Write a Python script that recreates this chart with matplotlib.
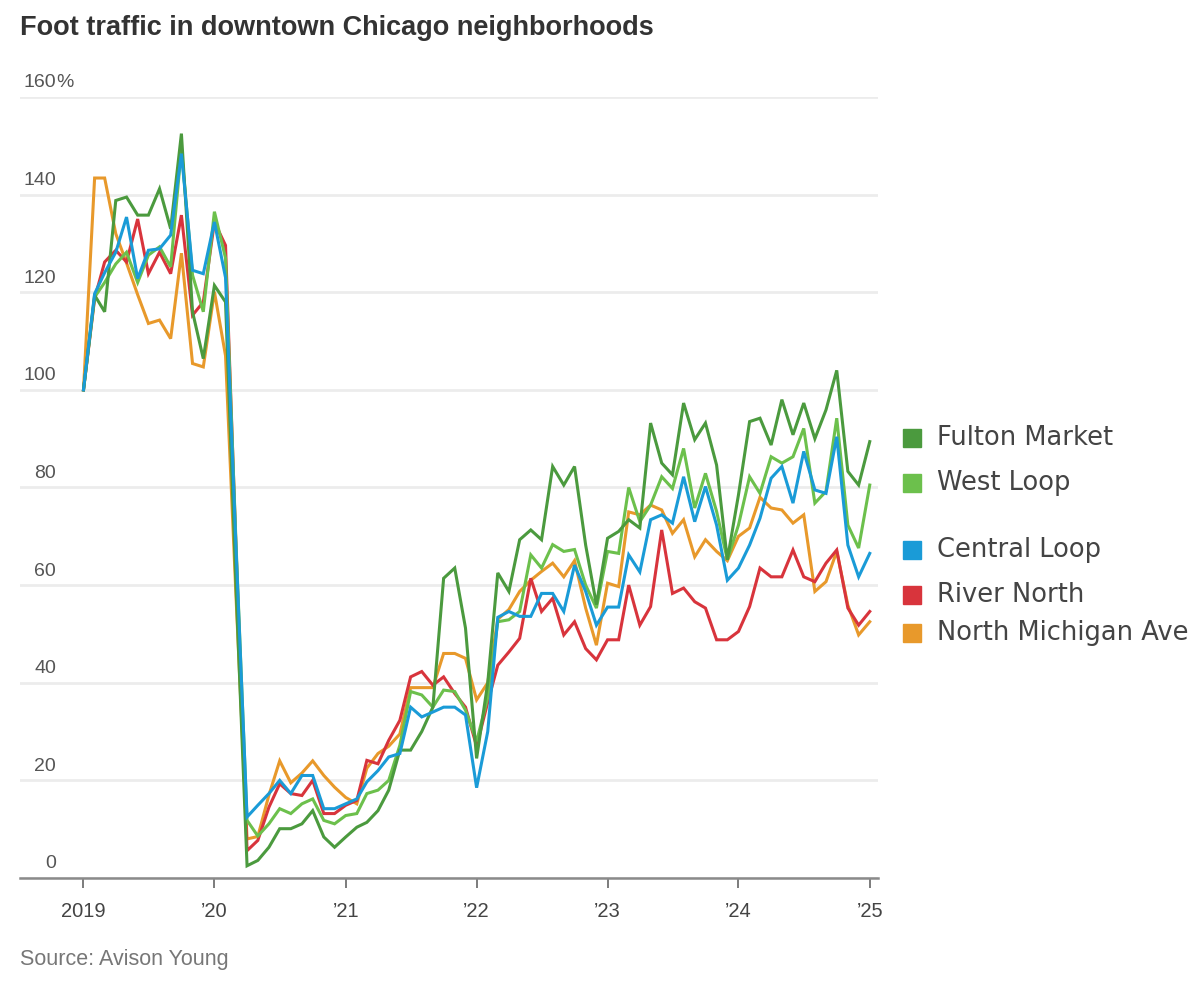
import matplotlib
matplotlib.use("Agg")
import matplotlib.pyplot as plt
import matplotlib.transforms as mtransforms
from matplotlib.patches import Rectangle
import pandas as pd

plt.rcParams['font.family'] = ['Liberation Sans', 'DejaVu Sans']

# monthly readings, Jan 2019 .. Jan 2025 (index, Jan 2019 = 100)
months = pd.date_range('2019-01-01', periods=73, freq='MS')

fulton_market = [
    100, 119.4, 116, 138.8, 139.5, 135.8, 135.8, 141.2, 133, 152.5, 116, 106.4,
    121.4, 118, 60, 2.5, 3.6, 6.3, 10.1, 10.1, 11.1, 13.8, 8.4, 6.3,
    8.4, 10.4, 11.4, 13.8, 18, 26.2, 26.2, 30, 35, 61.4, 63.5, 51.2,
    24.5, 40, 62.5, 58.7, 69.3, 71.3, 69.3, 84.3, 80.5, 84.3, 68.2, 56,
    69.6, 71, 73.4, 71.7, 93.2, 85, 82.6, 97.3, 89.8, 93.2, 84.6, 65.2,
    78.5, 93.5, 94.2, 88.7, 98, 90.8, 97.3, 90, 95.9, 104, 83.3, 80.5,
    89.4,
]
west_loop = [
    100, 119, 122, 125.8, 128.2, 122, 127.6, 129.3, 125.2, 149.4, 123.5, 116,
    136.5, 127, 69, 11.8, 8.6, 11.1, 14.2, 13.2, 15.2, 16.2, 11.8, 11.1,
    12.8, 13.2, 17.3, 18, 20, 27.2, 38.2, 37.5, 35, 38.5, 38.2, 34.4,
    28, 37, 52.5, 52.9, 54.6, 66.2, 63.5, 68.3, 66.9, 67.3, 60, 55.3,
    66.9, 66.5, 80, 73, 76.4, 82.2, 79.8, 88, 75.8, 82.9, 75.1, 65.2,
    72.3, 82.2, 78.8, 86.3, 85, 86.3, 92.1, 76.8, 79.2, 94.2, 72.3, 67.6,
    80.5,
]
central_loop = [
    100, 119.7, 124, 128.2, 135.4, 122.8, 128.6, 128.9, 131.7, 148.4, 124.5, 123.8,
    134.4, 123, 68, 12.5, 14.9, 17.3, 20, 17.3, 21, 21, 14.2, 14.2,
    15.2, 16.2, 19.7, 22, 24.8, 25.5, 35, 33, 34, 35, 35, 33.4,
    18.5, 30, 53.4, 54.6, 53.6, 53.6, 58.3, 58.3, 54.6, 64.1, 58.7, 51.8,
    55.5, 55.5, 66.2, 62.7, 73.4, 74.4, 72.7, 82.2, 73, 80.2, 72.3, 61,
    63.5, 68.2, 73.7, 81.9, 84.3, 76.8, 87.4, 79.5, 78.8, 90.4, 68.2, 61.7,
    66.5,
]
river_north = [
    100, 118.7, 126.2, 128.6, 126.2, 135, 123.8, 128.2, 123.8, 135.8, 115.3, 118,
    134.4, 129.6, 68, 5.6, 7.7, 14.5, 19.3, 17.3, 16.9, 20, 13.2, 13.2,
    14.9, 15.9, 24.1, 23.4, 28.2, 32.3, 41.2, 42.3, 39.5, 41.2, 37.8, 35,
    27, 36, 43.6, 46.3, 49.1, 61.4, 54.6, 57.3, 49.8, 52.5, 47, 44.7,
    48.8, 48.8, 60, 51.8, 55.6, 71.3, 58.3, 59.4, 56.6, 55.3, 48.8, 48.8,
    50.5, 55.6, 63.5, 61.7, 61.7, 67.2, 61.7, 60.7, 64.5, 67.2, 55.3, 51.8,
    54.6,
]
north_michigan = [
    100, 143.4, 143.4, 132, 126, 119.5, 113.6, 114.3, 110.5, 128, 105.4, 104.7,
    120.1, 107, 58, 8, 8.5, 17, 24, 19.5, 21.5, 24, 21, 18.6,
    16.5, 15.2, 22.5, 25.5, 27, 29.5, 39, 39, 39, 46, 46, 45,
    36.5, 40, 53, 55, 58.7, 61, 62.8, 64.5, 61.7, 65, 55.3, 47.7,
    60.4, 59.7, 75, 74.4, 76.4, 75.4, 70.6, 73.4, 65.8, 69.3, 66.9, 65,
    70, 71.7, 78, 75.8, 75.4, 72.7, 74.4, 58.7, 60.7, 66.9, 55.9, 49.8,
    52.5,
]

names = ['Fulton Market', 'West Loop', 'Central Loop', 'River North', 'North Michigan Ave']
colors = {
    'Fulton Market': '#4b9a3e',
    'West Loop': '#6cc04c',
    'Central Loop': '#1a9bd7',
    'River North': '#d8343c',
    'North Michigan Ave': '#e8992b',
}
series = {
    'Fulton Market': fulton_market,
    'West Loop': west_loop,
    'Central Loop': central_loop,
    'River North': river_north,
    'North Michigan Ave': north_michigan,
}

y_ticks = [0, 20, 40, 60, 80, 100, 120, 140, 160]
x_tick_years = [2019, 2020, 2021, 2022, 2023, 2024, 2025]
x_tick_labels = ['2019', '\u201920', '\u201921', '\u201922', '\u201923', '\u201924', '\u201925']

W, H = 1200, 992
fig = plt.figure(figsize=(W / 100, H / 100), dpi=100)
ax = fig.add_axes([20 / W, 1 - 878 / H, 858 / W, (878 - 97) / H])

# draw order: orange / red under, blue on top
for name in ['North Michigan Ave', 'River North', 'West Loop', 'Fulton Market', 'Central Loop']:
    ax.plot(months, series[name], color=colors[name], lw=2.2,
            solid_joinstyle='miter', zorder=3)

ax.set_ylim(0, 160)
ax.set_xlim(pd.Timestamp('2018-07-08'), pd.Timestamp('2025-01-24'))

# gridlines
ax.set_yticks(y_ticks)
ax.yaxis.grid(True, color='#ececec', lw=2.0)
ax.tick_params(axis='y', length=0, labelleft=False)
ax.set_axisbelow(True)

for s in ['top', 'right', 'left']:
    ax.spines[s].set_visible(False)
ax.spines['bottom'].set_color('#8a8a8a')
ax.spines['bottom'].set_linewidth(1.8)
ax.spines['bottom'].set_zorder(4)

# y labels sit above the gridlines, right-aligned
narrow = ['Liberation Sans Narrow', 'Liberation Sans', 'DejaVu Sans']
lab_tr = mtransforms.blended_transform_factory(fig.transFigure, ax.transData)
off = mtransforms.offset_copy(lab_tr, fig=fig, y=4, units='points')
for v in y_ticks:
    ax.text(56 / W, v, str(v), transform=off, ha='right', va='bottom',
            fontsize=14, color='#555555', family=narrow)
ax.text(56 / W, 160, '%', transform=off, ha='left', va='bottom',
        fontsize=14, color='#555555', family=narrow)

# x ticks
ax.set_xticks([pd.Timestamp(f'{y}-01-01') for y in x_tick_years])
ax.set_xticklabels(x_tick_labels, family=narrow)
ax.tick_params(axis='x', length=7, width=1.2, color='#666666', pad=10,
               labelsize=14.5, labelcolor='#444444')

# title and source
fig.text(20 / W, 1 - 28 / H, 'Foot traffic in downtown Chicago neighborhoods',
         ha='left', va='center', fontsize=19.5, fontweight='bold', color='#333333')
fig.text(20 / W, 1 - 960 / H, 'Source: Avison Young', ha='left', va='center',
         fontsize=15.5, color='#777777', family=narrow)

# legend on the right
leg_rows = [438, 483, 550, 595, 633]
for name, yc in zip(names, leg_rows):
    fig.patches.append(Rectangle((903 / W, 1 - (yc + 9) / H), 18 / W, 18 / H,
                                 transform=fig.transFigure, color=colors[name]))
    fig.text(937 / W, 1 - yc / H, name, ha='left', va='center', fontsize=18.5,
             color='#444444', family=['DejaVu Sans'])

fig.savefig('out.png', dpi=100, facecolor='white')
